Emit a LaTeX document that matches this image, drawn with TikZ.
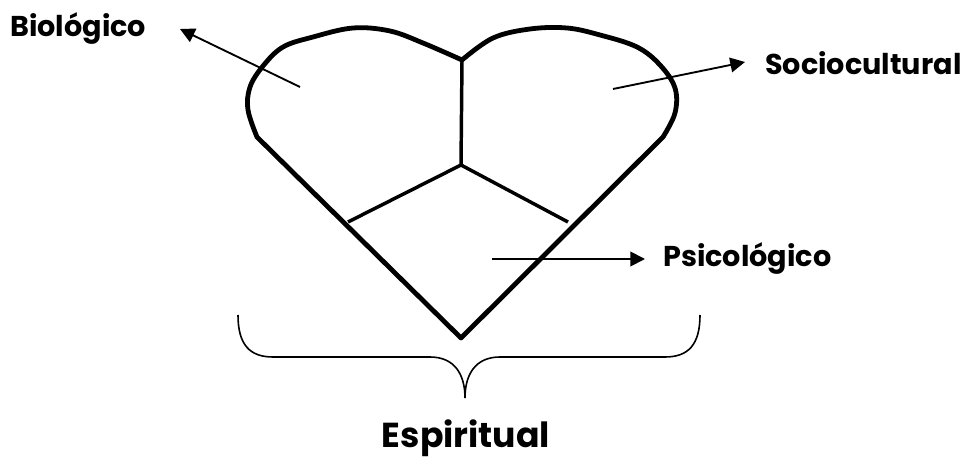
\documentclass[tikz,border=0pt]{standalone}
\usepackage{fontspec}
\setmainfont{Poppins}
\usetikzlibrary{arrows.meta}
\begin{document}
\begin{tikzpicture}[x=0.75pt, y=-0.75pt,
  every node/.style={font=\bfseries\fontsize{21.5}{24}\selectfont, inner sep=0pt},
  heartline/.style={line width=3.6pt, line join=round},
  partline/.style={line width=2.6pt},
  pointer/.style={line width=1.4pt, -{Triangle[length=11pt,width=11pt]}}]
\useasboundingbox (0,0) rectangle (978,459);
% heart outline
\coordinate (tip) at (461,338);
\coordinate (lcorner) at (257,137);
\coordinate (dip) at (462,60);
\coordinate (rcorner) at (663,137);
\draw[heartline] (tip) -- (lcorner)
  -- plot[smooth, tension=0.6] coordinates {(lcorner) (248,110) (250,87) (263,66) (283,47) (313,37) (353,28) (390,31) (423,43) (dip)}
  -- plot[smooth, tension=0.6] coordinates {(dip) (493,38) (530,29) (567,28) (600,35) (637,47) (660,65) (675,88) (675,113) (rcorner)}
  -- cycle;
% the three parts
\coordinate (centre) at (461,165);
\coordinate (lend) at (348,222);
\coordinate (rend) at (568,222);
\draw[partline] (dip) -- (centre);
\draw[partline] (lend) -- (centre) -- (rend);
% labels
\node[anchor=base west] (bio) at (10,37) {Biológico};
\node[anchor=base west] (socio) at (765,75) {Sociocultural};
\node[anchor=base west] (psico) at (663,267) {Psicológico};
\node[anchor=base, font=\bfseries\fontsize{26}{30}\selectfont] (espi) at (466,447) {Espiritual};
% pointers
\coordinate (bioin) at (300,87);
\coordinate (biotip) at (180,29);
\coordinate (socioin) at (613,89);
\coordinate (sociotip) at (745,62);
\coordinate (psicoin) at (492,259);
\coordinate (psicotip) at (645,259);
\draw[pointer] (bioin) -- (biotip);
\draw[pointer] (socioin) -- (sociotip);
\draw[pointer] (psicoin) -- (psicotip);
% brace
\coordinate (bl) at (238,315);
\coordinate (bm) at (465,398);
\coordinate (br) at (700,315);
\draw[line width=1.2pt] (bl) .. controls (238,345) and (250,357) .. (273,357) -- (430,357)
  .. controls (455,357) and (465,375) .. (bm)
  .. controls (465,375) and (475,357) .. (500,357) -- (665,357)
  .. controls (688,357) and (700,345) .. (br);
\end{tikzpicture}
\end{document}
